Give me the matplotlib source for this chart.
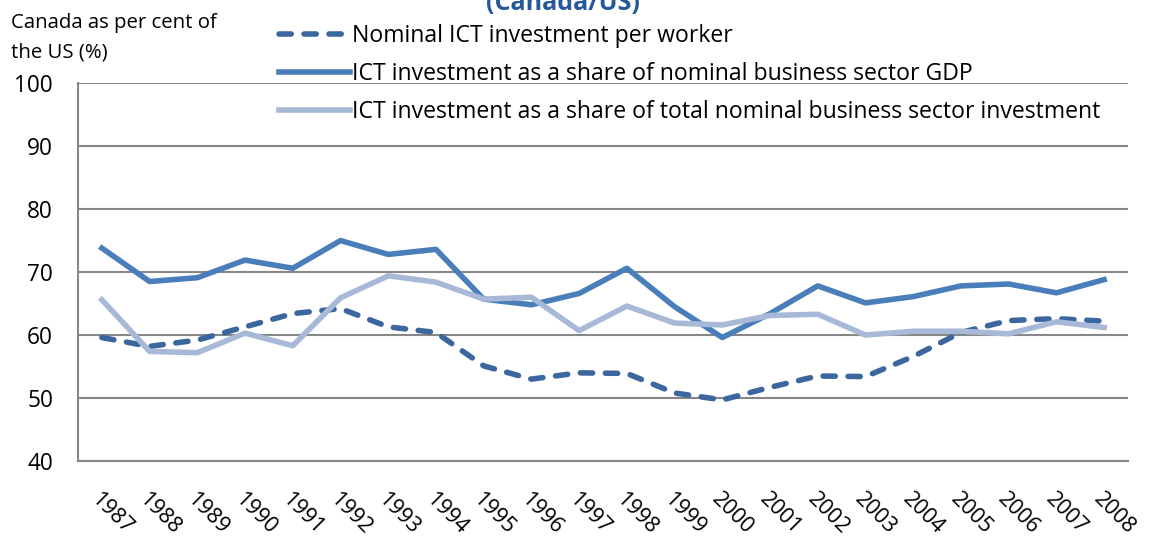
import matplotlib.pyplot as plt

years = list(range(1987, 2009))

nominal_per_worker = [59.6, 58.2, 59.2, 61.3, 63.4, 64.2, 61.3, 60.4, 55.1, 53.0, 54.0,
                      53.9, 50.8, 49.7, 51.7, 53.5, 53.4, 56.6, 60.4, 62.3, 62.6, 62.2]
share_of_gdp = [73.8, 68.5, 69.1, 71.9, 70.6, 75.0, 72.8, 73.6, 65.7, 64.8, 66.6,
                70.6, 64.5, 59.6, 63.4, 67.8, 65.1, 66.1, 67.8, 68.1, 66.7, 68.8]
share_of_investment = [65.6, 57.4, 57.2, 60.3, 58.3, 65.9, 69.4, 68.4, 65.7, 66.0, 60.7,
                       64.6, 61.9, 61.6, 63.1, 63.3, 60.0, 60.6, 60.6, 60.2, 62.1, 61.2]

labels = ["Nominal ICT investment per worker",
          "ICT investment as a share of nominal business sector GDP",
          "ICT investment as a share of total nominal business sector investment"]

plt.rcParams['font.family'] = ['Open Sans', 'DejaVu Sans']

fig = plt.figure(figsize=(11.49, 5.43), dpi=100)
ax = fig.add_axes([0.0679, 0.151, 0.9138, 0.696])

x = range(len(years))
l1, = ax.plot(x, nominal_per_worker, color='#3C679E', lw=4, ls=(0, (2.2, 2.3)),
              dash_capstyle='round')
l2, = ax.plot(x, share_of_gdp, color='#4A7EBB', lw=4)
l3, = ax.plot(x, share_of_investment, color='#A7B9D7', lw=4)

ax.set_ylim(40, 100)
ax.set_yticks(range(40, 101, 10))
ax.set_xlim(-0.5, len(years) - 0.5)
ax.set_xticks(list(x))
ax.set_xticklabels([str(y) for y in years], rotation=-45, ha='left', va='top',
                   rotation_mode='anchor')
ax.tick_params(axis='both', length=0, labelsize=16.3)
ax.tick_params(axis='x', labelsize=15.6, pad=20)
ax.tick_params(axis='y', pad=18)
ax.yaxis.grid(True, color='#878787', lw=1.5)
ax.set_axisbelow(True)
for s in ['top', 'right']:
    ax.spines[s].set_visible(False)
for s in ['left', 'bottom']:
    ax.spines[s].set_color('#878787')
    ax.spines[s].set_linewidth(1.5)

fig.text(0.010, 0.976, "Canada as per cent of\nthe US (%)", fontsize=14.7, va='top',
         ha='left', linespacing=1.6)
fig.text(0.49, 0.982, "(Canada/US)", fontsize=18, fontweight='bold', color='#24589A',
         ha='center', va='baseline')

fig.legend([l1, l2, l3], labels, loc='upper left', bbox_to_anchor=(0.229, 0.985),
           frameon=False, fontsize=16.6, handlelength=3.05, handletextpad=0.1,
           labelspacing=0.6, borderaxespad=0.3)

fig.savefig('out.png', dpi=100)
